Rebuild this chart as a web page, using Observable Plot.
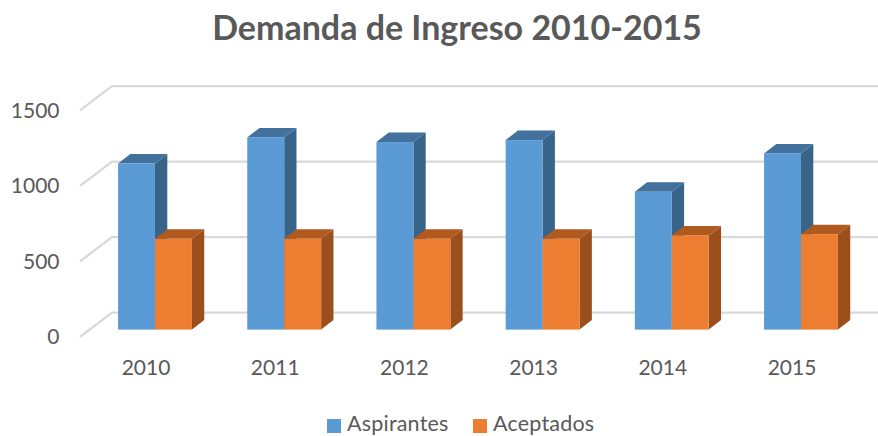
<!DOCTYPE html>
<html lang="es">
<head>
<meta charset="utf-8">
<script src="https://cdn.jsdelivr.net/npm/d3@7"></script>
<script src="https://cdn.jsdelivr.net/npm/@observablehq/plot@0.6"></script>
<style>
  html,body{margin:0;padding:0;background:#fff;width:878px;height:436px;overflow:hidden;font-family:Lato,sans-serif;color:#595959}
  #title{height:60px;line-height:54px;text-align:center;font-size:34px;font-weight:700;padding-left:36px;box-sizing:border-box}
  #legend{position:absolute;left:0;top:410px;width:878px;height:26px;font-size:21.5px;line-height:26px;letter-spacing:.2px}
  #legend span{position:absolute;top:0}
  #legend i{position:absolute;top:9px;width:14px;height:14px}
</style>
</head>
<body>
<div id="title">Demanda de Ingreso 2010-2015</div>
<div id="chart"></div>
<div id="legend">
  <i style="left:327px;background:#5B9BD5"></i><span style="left:347px">Aspirantes</span>
  <i style="left:473px;background:#ED7D31"></i><span style="left:493px">Aceptados</span>
</div>
<script>
const years = [2010, 2011, 2012, 2013, 2014, 2015];
const aspirantes = [1100, 1273, 1242, 1255, 913, 1167];
const aceptados = [601, 601, 601, 601, 624, 632];
const yTicks = [0, 500, 1000, 1500];
const barHalf = 0.286;

const depthX = 12.3, depthY = 9.5;

function faces(top, side) {
  return function (index, scales, values, dimensions, context, next) {
    const g = next(index, scales, values, dimensions, context);
    const ns = "http://www.w3.org/2000/svg";
    const frag = document.createElementNS(ns, "g");
    for (const i of index) {
      const x1 = values.x1[i], x2 = values.x2[i], y0 = values.y1[i], yT = values.y2[i];
      const s = document.createElementNS(ns, "polygon");
      s.setAttribute("fill", side);
      s.setAttribute("points", `${x2},${yT} ${x2 + depthX},${yT - depthY} ${x2 + depthX},${y0 - depthY} ${x2},${y0}`);
      frag.appendChild(s);
      const t = document.createElementNS(ns, "polygon");
      t.setAttribute("fill", top);
      t.setAttribute("points", `${x1},${yT} ${x1 + depthX},${yT - depthY} ${x2 + depthX},${yT - depthY} ${x2},${yT}`);
      frag.appendChild(t);
    }
    g.insertBefore(frag, g.firstChild);
    return g;
  };
}

function walls(index, scales, values, dimensions) {
  const ns = "http://www.w3.org/2000/svg";
  const g = document.createElementNS(ns, "g");
  for (const i of index) {
    const y = scales.y(yTicks[i]);
    const p = document.createElementNS(ns, "path");
    p.setAttribute("d", `M80,${y + 7.3}L112,${y - 17}L${dimensions.width},${y - 17}`);
    p.setAttribute("fill", "none");
    p.setAttribute("stroke", "#D9D9D9");
    p.setAttribute("stroke-width", 2.4);
    g.appendChild(p);
  }
  return g;
}

const rows = (vals) => years.map((year, i) => ({ year, v: vals[i] }));

const plot = Plot.plot({
  width: 878,
  height: 340,
  margin: 0,
  marginBottom: 36,
  style: { fontFamily: "Lato, sans-serif", color: "#595959", background: "#fff" },
  x: { domain: [2010, 2015], range: [155, 801], axis: null },
  y: { domain: [0, 1500], range: [269.6, 43.1], axis: null },
  marks: [
    Plot.ruleY(yTicks, { render: walls }),
    Plot.rect(rows(aspirantes), {
      x1: (d) => d.year - barHalf, x2: "year", y1: 0, y2: "v",
      fill: "#5B9BD5", render: faces("#41719C", "#386489")
    }),
    Plot.rect(rows(aceptados), {
      x1: "year", x2: (d) => d.year + barHalf, y1: 0, y2: "v",
      fill: "#ED7D31", render: faces("#B05A20", "#9A4F1C")
    }),
    Plot.axisX(years, {
      anchor: "bottom", tickSize: 0, tickPadding: 0, tickFormat: "d", fontSize: 21, dx: -9.5, dy: -4, label: null
    }),
    Plot.axisY(yTicks, {
      anchor: "left", tickSize: 0, tickPadding: 0, fontSize: 21, dx: 59, dy: 7.5, label: null, tickFormat: "d"
    })
  ]
});
document.getElementById("chart").appendChild(plot);
</script>
</body>
</html>
